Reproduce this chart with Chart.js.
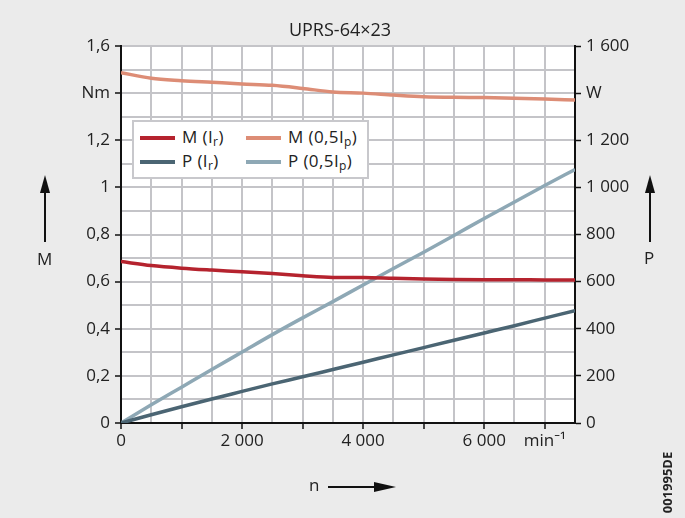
<!DOCTYPE html>
<html>
<head>
<meta charset="utf-8">
<script src="https://cdn.jsdelivr.net/npm/chart.js@4"></script>
<style>
  html, body { margin: 0; padding: 0; background: #ebebeb; }
  body { width: 685px; height: 518px; position: relative; overflow: hidden;
         font-family: "Open Sans", "Noto Sans", sans-serif; color: #222; }
  #wrap { position: absolute; left: 0; top: 0; width: 685px; height: 518px; }
  .lbl { position: absolute; font-size: 17px; line-height: 1; white-space: nowrap; }
  .arrow-up { position: absolute; width: 2px; background: #111; }
  .arrow-up:before { content: ""; position: absolute; left: -4px; top: -16px;
    border-left: 5px solid transparent; border-right: 5px solid transparent; border-bottom: 18px solid #111; }
  #legend { position: absolute; left: 132px; top: 120px; width: 233px; height: 55px;
    background: #fff; border: 2px solid #c8c8cc; font-size: 17px; }
  .item { position: absolute; line-height: 1; white-space: nowrap; letter-spacing: 0.4px; }
  .item i { position: absolute; left: -42px; top: 8px; width: 35px; height: 4px; }
  sub { font-size: 12px; vertical-align: -3px; }
</style>
</head>
<body>
<div id="wrap"><canvas id="chart" width="685" height="518"></canvas></div>

<div class="lbl" style="left:0; width:680px; text-align:center; top:20px; font-size:18px;">UPRS-64×23</div>

<div id="legend">
  <div class="item" style="left:48px; top:6px;"><i style="background:#b5232e"></i>M (I<sub>r</sub>)</div>
  <div class="item" style="left:154px; top:6px;"><i style="background:#dd8d76"></i>M (0,5I<sub>p</sub>)</div>
  <div class="item" style="left:48px; top:30px;"><i style="background:#4b6573"></i>P (I<sub>r</sub>)</div>
  <div class="item" style="left:154px; top:30px;"><i style="background:#8ea8b5"></i>P (0,5I<sub>p</sub>)</div>
</div>

<div class="arrow-up" style="left:44px; top:191px; height:51px;"></div>
<div class="lbl" style="left:37px; top:250px;">M</div>
<div class="arrow-up" style="left:649px; top:191px; height:51px;"></div>
<div class="lbl" style="left:644px; top:249px;">P</div>
<div class="lbl" style="left:309px; top:476px;">n</div>
<div style="position:absolute; left:328px; top:486px; width:50px; height:2px; background:#111;"></div>
<div style="position:absolute; left:374px; top:482px; border-top:5px solid transparent; border-bottom:5px solid transparent; border-left:22px solid #111;"></div>
<div class="lbl" style="left:637px; top:476px; font-size:13px; font-weight:bold; transform:rotate(-90deg); transform-origin:center;">001995DE</div>

<script>
// speed n in min^-1
const speeds = [0, 500, 1000, 1500, 2000, 2500, 3000, 3500, 4000, 4500, 5000, 5500, 6000, 6500, 7000, 7500];
// torque in Nm
const torqueIr = [0.685, 0.668, 0.657, 0.649, 0.642, 0.634, 0.625, 0.618, 0.617, 0.614, 0.611, 0.609, 0.608, 0.608, 0.607, 0.607];
const torqueHalfIp = [1.487, 1.463, 1.453, 1.446, 1.439, 1.433, 1.420, 1.405, 1.400, 1.392, 1.385, 1.382, 1.381, 1.378, 1.375, 1.371];
// power in W
const powerIr = [0, 35, 69, 102, 134, 166, 196, 227, 258, 289, 320, 351, 382, 413, 445, 477];
const powerHalfIp = [0, 77, 152, 227, 301, 375, 446, 515, 586, 656, 725, 796, 868, 938, 1008, 1076];

const xLabels = { 0: '0', 2000: '2 000', 4000: '4 000', 6000: '6 000', 7000: 'min\u207B\u00B9' };
const leftLabels = { 0: '0', 2: '0,2', 4: '0,4', 6: '0,6', 8: '0,8', 10: '1', 12: '1,2', 14: 'Nm', 16: '1,6' };
const rightLabels = { 0: '0', 200: '200', 400: '400', 600: '600', 800: '800', 1000: '1 000', 1200: '1 200', 1400: 'W', 1600: '1 600' };

const pts = (ys) => speeds.map((n, i) => ({ x: n, y: ys[i] }));

const whiteArea = {
  id: 'whiteArea',
  beforeDraw(chart) {
    const a = chart.chartArea, c = chart.ctx;
    c.save();
    c.fillStyle = '#fff';
    c.fillRect(a.left, a.top, a.right - a.left, a.bottom - a.top);
    c.restore();
  }
};

const font = { family: '"Open Sans", "Noto Sans", sans-serif', size: 17 };
const gridCol = '#c4c4c8';

new Chart(document.getElementById('chart'), {
  type: 'line',
  data: {
    datasets: [
      { label: 'M (Ir)', data: pts(torqueIr), borderColor: '#b5232e', yAxisID: 'y' },
      { label: 'M (0,5Ip)', data: pts(torqueHalfIp), borderColor: '#dd8d76', yAxisID: 'y' },
      { label: 'P (Ir)', data: pts(powerIr), borderColor: '#4b6573', yAxisID: 'y2' },
      { label: 'P (0,5Ip)', data: pts(powerHalfIp), borderColor: '#8ea8b5', yAxisID: 'y2' }
    ]
  },
  options: {
    responsive: false,
    animation: false,
    layout: { padding: { top: 46, left: 0, right: 0, bottom: 0 } },
    elements: {
      point: { radius: 0 },
      line: { borderWidth: 3.5, cubicInterpolationMode: 'monotone' }
    },
    plugins: { legend: { display: false }, tooltip: { enabled: false } },
    scales: {
      x: {
        type: 'linear', min: 0, max: 7500,
        afterFit(s) { s.height = 95; },
        afterBuildTicks(s) { s.ticks = speeds.map(v => ({ value: v })); },
        grid: {
          color: gridCol, lineWidth: 2, tickLength: 6,
          tickColor: (ctx) => (ctx.tick && ctx.tick.value % 1000 === 0) ? '#111' : 'rgba(0,0,0,0)',
          tickWidth: 1.5
        },
        border: { color: '#111', width: 2 },
        ticks: {
          autoSkip: false, maxRotation: 0, padding: 2, color: '#222', font,
          callback: (v) => xLabels[v] !== undefined ? xLabels[v] : ''
        }
      },
      y: {
        position: 'left', min: 0, max: 1.6,
        afterFit(s) { s.width = 121; },
        afterBuildTicks(s) {
          const t = [];
          for (let i = 0; i <= 16; i++) t.push({ value: i / 10 });
          s.ticks = t;
        },
        grid: {
          color: gridCol, lineWidth: 2, tickLength: 6,
          tickColor: (ctx) => (ctx.tick && Math.round(ctx.tick.value * 10) % 2 === 0) ? '#111' : 'rgba(0,0,0,0)',
          tickWidth: 1.5
        },
        border: { color: '#111', width: 2 },
        ticks: {
          autoSkip: false, padding: 5, color: '#222', font,
          callback: (v) => { const k = Math.round(v * 10); return leftLabels[k] !== undefined ? leftLabels[k] : ''; }
        }
      },
      y2: {
        position: 'right', min: 0, max: 1600,
        afterFit(s) { s.width = 110; },
        afterBuildTicks(s) {
          const t = [];
          for (let v = 0; v <= 1600; v += 200) t.push({ value: v });
          s.ticks = t;
        },
        grid: { drawOnChartArea: false, tickLength: 6, tickColor: '#111', tickWidth: 1.5 },
        border: { color: '#111', width: 2 },
        ticks: {
          autoSkip: false, padding: 5, color: '#222', font,
          callback: (v) => rightLabels[v] !== undefined ? rightLabels[v] : ''
        }
      }
    }
  },
  plugins: [whiteArea]
});
</script>
</body>
</html>
